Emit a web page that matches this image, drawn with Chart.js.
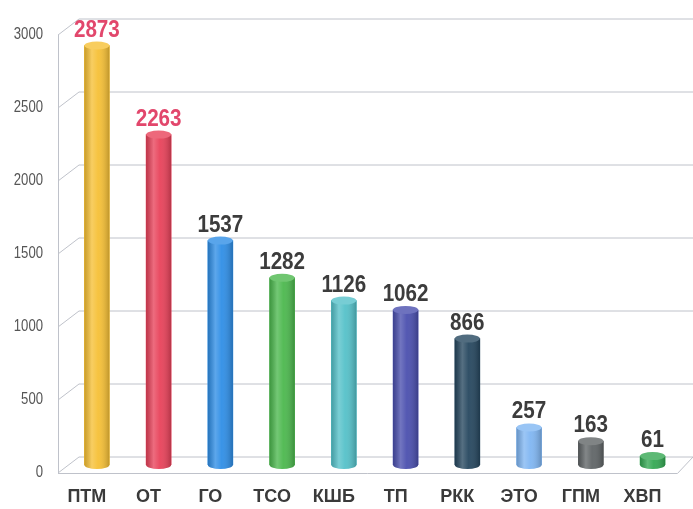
<!DOCTYPE html>
<html><head><meta charset="utf-8">
<script src="https://cdn.jsdelivr.net/npm/chart.js@4/dist/chart.umd.min.js"></script>
<style>html,body{margin:0;padding:0;background:#fff}#wrap{width:693px;height:509px}</style>
</head><body><div id="wrap"><canvas id="c" width="693" height="509"></canvas></div>
<script>
const categories = ['ПТМ','ОТ','ГО','ТСО','КШБ','ТП','РКК','ЭТО','ГПМ','ХВП'];
const values = [2873,2263,1537,1282,1126,1062,866,257,163,61];
const barColors = ['#f6c036','#e8425a','#2f8ee6','#4cb84e','#55c1c9','#4a4fae','#26475f','#80b6f2','#606567','#34a853'];
const labelColors = ['#e2476c','#e2476c','#3c3c3c','#3c3c3c','#3c3c3c','#3c3c3c','#3c3c3c','#3c3c3c','#3c3c3c','#3c3c3c'];
const yMin = 0, yMax = 3000, yStep = 500;

const FONT = "'Liberation Sans',Arial,sans-serif";
const DEPTH_X = 10.5, DEPTH_Y = 8;

function lighten(hex, a){
  const n=parseInt(hex.slice(1),16);let r=n>>16,g=(n>>8)&255,b=n&255;
  r=Math.round(r+(255-r)*a);g=Math.round(g+(255-g)*a);b=Math.round(b+(255-b)*a);
  return `rgb(${r},${g},${b})`;
}
function narrowText(ctx, text, x, y, sx){
  ctx.save();ctx.translate(x,y);ctx.scale(sx,1);ctx.fillText(text,0,0);ctx.restore();
}

const wallPlugin = {
  id:'wall',
  beforeDatasetsDraw(chart){
    const ctx=chart.ctx, ys=chart.scales.y, area=chart.chartArea;
    const frontX = area.left - 8, backX = frontX + 2*DEPTH_X;
    ctx.save();
    ctx.strokeStyle='#bfc2ca';ctx.lineWidth=1;
    const topMid = ys.getPixelForValue(yMax), botMid = ys.getPixelForValue(yMin);
    ctx.beginPath();ctx.moveTo(frontX+0.5, topMid+DEPTH_Y);ctx.lineTo(frontX+0.5, botMid+DEPTH_Y);ctx.stroke();
    ys.ticks.forEach(t=>{
      const m = ys.getPixelForValue(t.value);
      ctx.beginPath();
      ctx.moveTo(frontX, m+DEPTH_Y);
      ctx.lineTo(backX, m-DEPTH_Y);
      ctx.lineTo(chart.width, m-DEPTH_Y);
      ctx.stroke();
    });
    const f = botMid+DEPTH_Y;
    ctx.beginPath();ctx.moveTo(frontX,f+0.5);ctx.lineTo(area.right-6,f+0.5);ctx.lineTo(chart.width, botMid-DEPTH_Y);ctx.stroke();
    ctx.fillStyle='#555';ctx.font=`16px ${FONT}`;ctx.textAlign='right';ctx.textBaseline='middle';
    ys.ticks.forEach(t=>{
      const m = ys.getPixelForValue(t.value);
      narrowText(ctx, String(t.value), frontX-15, m+DEPTH_Y, 0.82);
    });
    ctx.restore();
  },
  afterDatasetsDraw(chart){
    const ctx=chart.ctx, meta=chart.getDatasetMeta(0);
    ctx.save();
    meta.data.forEach((bar,i)=>{
      const w=bar.width, x0=bar.x-w/2, x1=bar.x+w/2, top=bar.y, base=bar.base, ry=4;
      ctx.beginPath();
      ctx.moveTo(x0,top);ctx.lineTo(x0,base);
      ctx.ellipse(bar.x,base,w/2,ry,0,Math.PI,0,true);
      ctx.lineTo(x1,top);ctx.closePath();
      ctx.fillStyle=barColors[i];ctx.fill();
      const g=ctx.createLinearGradient(x0,0,x1,0);
      g.addColorStop(0,'rgba(0,0,0,0.18)');
      g.addColorStop(0.3,'rgba(255,255,255,0.22)');
      g.addColorStop(0.55,'rgba(255,255,255,0.05)');
      g.addColorStop(1,'rgba(0,0,0,0.22)');
      ctx.fillStyle=g;ctx.fill();
      ctx.beginPath();ctx.ellipse(bar.x,top,w/2,ry,0,0,Math.PI*2);
      ctx.fillStyle=lighten(barColors[i],0.2);ctx.fill();
      ctx.fillStyle=labelColors[i];
      ctx.font=`bold 24px ${FONT}`;ctx.textAlign='center';ctx.textBaseline='alphabetic';
      narrowText(ctx, String(values[i]), bar.x, top-9, 0.86);
    });
    ctx.restore();
  }
};

new Chart(document.getElementById('c'),{
  type:'bar',
  data:{labels:categories,datasets:[{data:values,backgroundColor:barColors,barThickness:25,borderWidth:0}]},
  options:{
    responsive:false,animation:false,
    layout:{padding:{top:27,right:9,left:0,bottom:0}},
    plugins:{legend:{display:false},tooltip:{enabled:false},title:{display:false}},
    scales:{
      y:{min:yMin,max:yMax,ticks:{stepSize:yStep,display:false},grid:{display:false,drawTicks:false},border:{display:false},
         afterFit(s){s.width=66;}},
      x:{grid:{display:false,drawTicks:false},border:{display:false},
         ticks:{color:'#3a3a3a',padding:21,labelOffset:-10,font:{family:FONT,size:18,weight:'bold'}},
         afterFit(s){s.height=44;}}
    }
  },
  plugins:[wallPlugin]
});
</script></body></html>
